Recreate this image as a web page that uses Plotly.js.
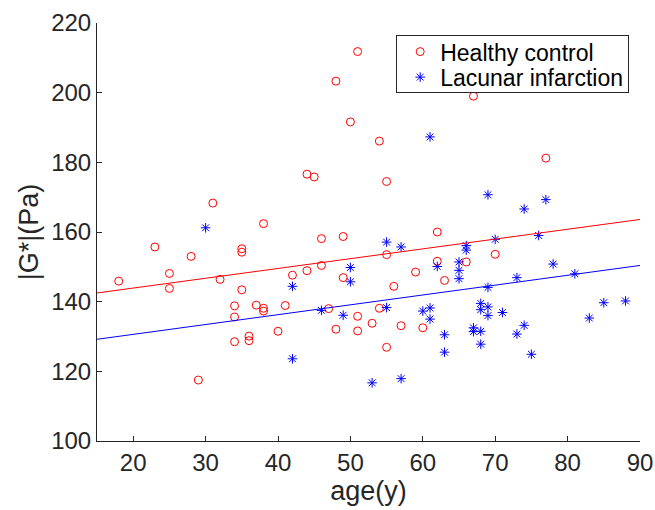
<!DOCTYPE html>
<html>
<head>
<meta charset="utf-8">
<script src="https://cdn.plot.ly/plotly-3.0.1.min.js"></script>
<style>html,body{margin:0;padding:0;background:#fff;}#chart{width:655px;height:510px;}</style>
</head>
<body>
<div id="chart"></div>
<script>
// Healthy control
const healthyAge = [18,23,25,25,28,29,31,32,34,34,34,35,35,35,36,36,37,38,38,38,40,41,42,44,44,45,46,46,47,48,48,49,49,50,51,51,51,53,54,54,55,55,55,56,57,59,60,62,62,63,66,67,70,77];
const healthyG = [145.9,155.7,148.1,143.8,153.0,117.5,168.3,146.4,138.8,135.6,128.5,155.2,154.2,143.4,130.1,128.8,139.0,162.4,138.1,137.3,131.5,138.9,147.6,176.6,148.9,175.8,158.1,150.4,138.0,203.3,132.1,158.7,146.9,191.6,211.8,135.8,131.6,133.8,186.1,138.1,174.5,153.5,126.9,144.4,133.1,148.5,132.5,160.0,151.6,146.1,151.4,199.0,153.6,181.2];
// Lacunar infarction
const lacunarAge = [30,42,42,46,49,50,50,53,55,55,57,57,60,61,61,61,62,63,63,65,65,65,66,66,67,67,68,68,68,68,69,69,69,69,70,71,73,73,74,74,75,76,77,78,81,83,85,88];
const lacunarG = [161.2,144.4,123.6,137.5,136.1,149.8,145.7,116.7,157.1,138.3,155.7,117.9,137.3,187.3,138.2,135.0,150.1,130.5,125.5,151.4,149.0,146.6,156.1,154.8,132.5,131.4,139.5,137.7,131.5,127.8,170.7,144.1,138.5,136.0,157.9,136.9,146.9,130.7,166.6,133.2,124.9,159.0,169.3,150.8,148.0,135.3,139.7,140.2];
// Fitted lines (end points)
const fitAge = [15, 90];
const healthyFit = [142.5, 163.6];
const lacunarFit = [129.2, 150.4];
const xTicks = [20,30,40,50,60,70,80,90];
const yTicks = [100,120,140,160,180,200,220];

const axisColor = '#262626';
const font = "Arial, 'Liberation Sans', Helvetica, sans-serif";

const traces = [
  {x: healthyAge, y: healthyG, mode: 'markers', type: 'scatter', name: 'Healthy control',
   marker: {symbol: 'circle-open', size: 8, color: '#ff0000', line: {width: 1}}},
  {x: lacunarAge, y: lacunarG, mode: 'markers', type: 'scatter', name: 'Lacunar infarction',
   marker: {symbol: 'asterisk-open', size: 8, color: '#0000ff', line: {width: 1, color: '#0000ff'}}},
  {x: fitAge, y: healthyFit, mode: 'lines', type: 'scatter', showlegend: false,
   line: {color: '#ff0000', width: 1}},
  {x: fitAge, y: lacunarFit, mode: 'lines', type: 'scatter', showlegend: false,
   line: {color: '#0000ff', width: 1}}
];

const layout = {
  width: 655, height: 510,
  margin: {l: 96.5, r: 15, t: 22.5, b: 69},
  paper_bgcolor: '#fff', plot_bgcolor: '#fff',
  font: {family: font, size: 22, color: '#000'},
  showlegend: true,
  legend: {x: 0.551, y: 0.971, xanchor: 'left', yanchor: 'top',
           bordercolor: axisColor, borderwidth: 1, bgcolor: '#fff',
           font: {family: font, size: 23, color: '#000'}},
  xaxis: {range: [15, 90], tickvals: xTicks, ticktext: xTicks.map(String),
          showgrid: false, zeroline: false, showline: true, linecolor: axisColor, linewidth: 1,
          ticks: 'inside', ticklen: 5, tickcolor: axisColor, tickwidth: 1,
          tickfont: {family: font, size: 24, color: '#262626'},
          title: {text: 'age(y)', font: {family: font, size: 27, color: '#262626'}, standoff: 6}},
  yaxis: {range: [100, 220], tickvals: yTicks, ticktext: yTicks.map(String),
          showgrid: false, zeroline: false, showline: true, linecolor: axisColor, linewidth: 1,
          ticks: 'inside', ticklen: 5, tickcolor: axisColor, tickwidth: 1,
          tickfont: {family: font, size: 24, color: '#262626'},
          title: {text: '|G*|(Pa)', font: {family: font, size: 27, color: '#262626'}, standoff: 4}}
};

Plotly.newPlot('chart', traces, layout, {displayModeBar: false, staticPlot: true}).then(function (gd) {
  // tighten legend spacing to match the reference box
  const leg = gd.querySelector('g.legend');
  if (!leg) return;
  const bg = leg.querySelector('rect.bg');
  const items = leg.querySelectorAll('g.traces');
  const ys = [16.5, 42];
  items.forEach(function (t, i) {
    const m = /translate\(\s*([-\d.]+)[,\s]+([-\d.]+)\s*\)/.exec(t.getAttribute('transform') || '');
    const x = m ? parseFloat(m[1]) : 0;
    t.setAttribute('transform', 'translate(' + (x + 3) + ',' + ys[i] + ')');
  });
  if (bg) { bg.setAttribute('height', 57); bg.setAttribute('width', 232); }
});
</script>
</body>
</html>
